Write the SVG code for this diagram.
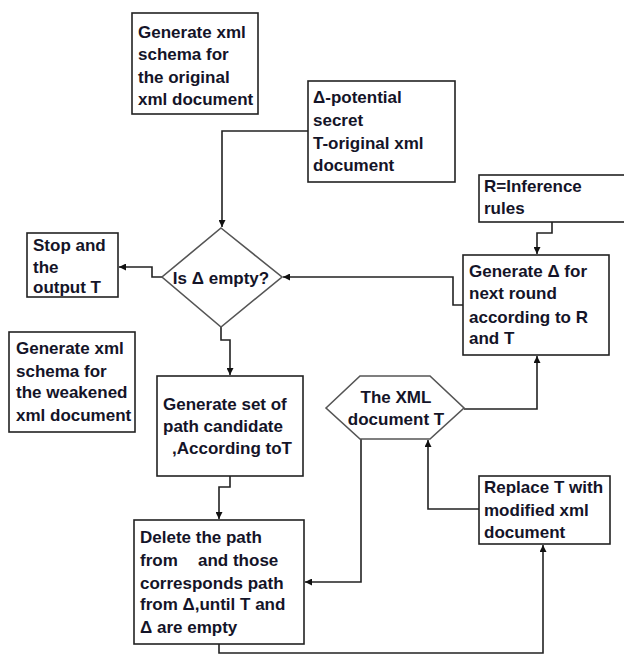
<svg xmlns="http://www.w3.org/2000/svg" width="624" height="655" viewBox="0 0 624 655">
<style>
.box{fill:#fff;stroke:#222;stroke-width:1.6}
.shape{fill:#fff;stroke:#555;stroke-width:1.6}
.t{font-family:"Liberation Sans",Arial,sans-serif;font-weight:bold;font-size:17px;fill:#141428}
.c{text-anchor:middle}
.conn{fill:none;stroke:#222;stroke-width:1.6}
</style>
<defs>
<marker id="arr" markerUnits="userSpaceOnUse" markerWidth="8" markerHeight="7" refX="7" refY="3.5" orient="auto">
<path d="M0,0 L7,3.5 L0,7 z" fill="#111"/>
</marker>
</defs>
<rect width="624" height="655" fill="#fff"/>
<g id="connectors">
<path class="conn" d="M308,131 H222 V227" marker-end="url(#arr)"/>
<path class="conn" d="M162,277 H152 V267 H119" marker-end="url(#arr)"/>
<path class="conn" d="M463,305 H453 V277 H283" marker-end="url(#arr)"/>
<path class="conn" d="M552,222 V233 H537 V254" marker-end="url(#arr)"/>
<path class="conn" d="M221,327 V340 H230 V375" marker-end="url(#arr)"/>
<path class="conn" d="M230,476 V487 H219 V519" marker-end="url(#arr)"/>
<path class="conn" d="M361,439 V582 H305" marker-end="url(#arr)"/>
<path class="conn" d="M464,409 H537 V356" marker-end="url(#arr)"/>
<path class="conn" d="M479,509 H428 V440" marker-end="url(#arr)"/>
<path class="conn" d="M219,644 V653 H543 V545" marker-end="url(#arr)"/>
</g>
<g id="schema-original">
<rect class="box" x="132" y="13" width="126" height="101"/>
<text class="t"><tspan x="138" y="38">Generate xml</tspan><tspan x="138" y="60">schema for</tspan><tspan x="138" y="83">the original</tspan><tspan x="138" y="105">xml document</tspan></text>
</g>
<g id="potential-secret">
<rect class="box" x="308" y="81" width="147" height="101"/>
<text class="t"><tspan x="313" y="103">Δ-potential</tspan><tspan x="313" y="126">secret</tspan><tspan x="313" y="149">T-original xml</tspan><tspan x="313" y="171">document</tspan></text>
</g>
<g id="is-empty">
<polygon class="shape" points="221,228 282,277 221,327 162,277"/>
<text class="t c" x="221" y="284">Is Δ empty?</text>
</g>
<g id="stop">
<rect class="box" x="27" y="233" width="91" height="64"/>
<text class="t"><tspan x="33" y="251">Stop and</tspan><tspan x="33" y="273">the</tspan><tspan x="33" y="293">output T</tspan></text>
</g>
<g id="inference-rules">
<rect class="box" x="479" y="175" width="151" height="47"/>
<text class="t"><tspan x="484" y="192">R=Inference</tspan><tspan x="484" y="214">rules</tspan></text>
</g>
<g id="generate-delta">
<rect class="box" x="463" y="255" width="146" height="100"/>
<text class="t"><tspan x="469" y="277">Generate Δ for</tspan><tspan x="469" y="299">next round</tspan><tspan x="469" y="323">according to R</tspan><tspan x="469" y="344">and T</tspan></text>
</g>
<g id="schema-weakened">
<rect class="box" x="9" y="332" width="126" height="100"/>
<text class="t"><tspan x="16" y="354">Generate xml</tspan><tspan x="16" y="377">schema for</tspan><tspan x="16" y="398">the weakened</tspan><tspan x="16" y="421">xml document</tspan></text>
</g>
<g id="path-candidates">
<rect class="box" x="157" y="376" width="146" height="100"/>
<text class="t"><tspan x="163" y="410">Generate set of</tspan><tspan x="163" y="432">path candidate</tspan><tspan x="172" y="454">,According toT</tspan></text>
</g>
<g id="xml-document">
<polygon class="shape" points="326,408 360,376 430,376 464,408 430,439 360,439"/>
<text class="t c"><tspan x="396" y="403">The XML</tspan><tspan x="396" y="425">document T</tspan></text>
</g>
<g id="replace">
<rect class="box" x="479" y="476" width="131" height="68"/>
<text class="t"><tspan x="484" y="493">Replace T with</tspan><tspan x="484" y="516">modified xml</tspan><tspan x="484" y="538">document</tspan></text>
</g>
<g id="delete-path">
<rect class="box" x="134" y="520" width="170" height="124"/>
<text class="t"><tspan x="140" y="543">Delete the path</tspan><tspan x="140" y="566">from</tspan><tspan x="198" y="566">and those</tspan><tspan x="140" y="589">corresponds path</tspan><tspan x="140" y="610">from Δ,until T and</tspan><tspan x="140" y="633">Δ are empty</tspan></text>
</g>
</svg>
